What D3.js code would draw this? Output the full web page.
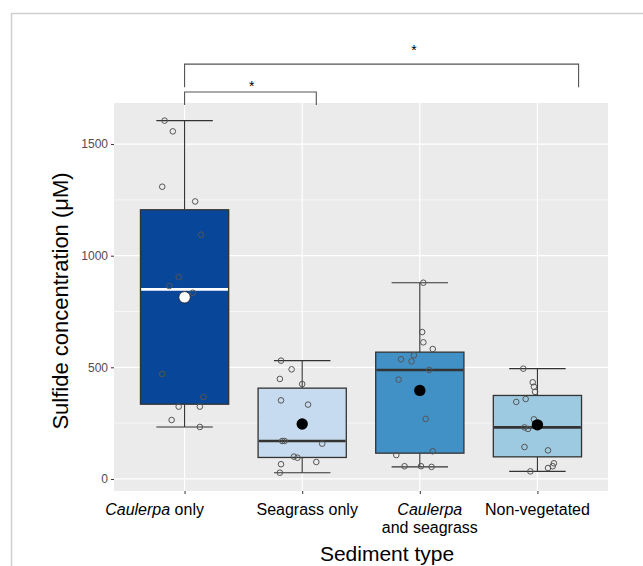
<!DOCTYPE html>
<html>
<head>
<meta charset="utf-8">
<script src="https://cdn.jsdelivr.net/npm/d3@7"></script>
<style>
  body { margin: 0; background: #fff; }
  svg { display: block; font-family: "Liberation Sans", Arial, sans-serif; }
</style>
</head>
<body>
<svg width="643" height="566"></svg>
<script>
// sediment types, in plotting order
var categories = ["caulerpa", "seagrass", "both", "bare"];
var fills = ["#08469a", "#c6dbef", "#4190c6", "#9ecae1"];

// tick labels (italic parts flagged)
var tickLabels = [
    [[["Caulerpa", true], [" only", false]]],
    [[["Seagrass only", false]]],
    [[["Caulerpa", true]], [["and seagrass", false]]],
    [[["Non-vegetated", false]]]
];

// sulfide concentration (uM) per replicate
var caulerpaOnly = [1605, 1557, 1309, 1243, 1094, 904, 864, 834, 470, 367, 324, 324, 264, 233];
var seagrassOnly = [530, 491, 448, 425, 352, 333, 170, 170, 158, 100, 95, 76, 66, 28];
var caulerpaSeagrass = [879, 658, 612, 582, 554, 536, 527, 488, 445, 269, 124, 107, 57, 57, 54];
var nonVegetated = [494, 433, 413, 390, 358, 345, 267, 231, 224, 143, 128, 70, 57, 49, 34];

// horizontal jitter of each point (fraction of a category step), as drawn
var jitCaulerpa = [-0.17, -0.10, -0.19, 0.09, 0.14, -0.05, -0.13, 0.07, -0.19, 0.16, -0.05, 0.13, -0.11, 0.13];
var jitSeagrass = [-0.18, -0.09, -0.19, 0.00, -0.18, 0.05, -0.17, -0.15, 0.17, -0.07, -0.04, 0.12, -0.18, -0.19];
var jitBoth = [0.03, 0.02, 0.03, 0.11, -0.05, -0.16, -0.07, 0.08, -0.18, 0.05, 0.11, -0.20, -0.13, 0.01, 0.10];
var jitBare = [-0.12, -0.04, -0.03, -0.02, -0.10, -0.18, -0.03, -0.11, -0.08, -0.11, 0.09, 0.14, 0.13, 0.09, -0.06];

var values = [caulerpaOnly, seagrassOnly, caulerpaSeagrass, nonVegetated];
var jitters = [jitCaulerpa, jitSeagrass, jitBoth, jitBare];

var yTicks = [0, 500, 1000, 1500];
var yMinor = [250, 750, 1250];

// significance brackets (x in category index units, y in uM)
var brackets = [
    {x1: 0, x2: 1.12, top: 1733, drop: 1675, starX: 0.57, starY: 1760},
    {x1: 0, x2: 3.35, top: 1858, drop: 1755, starX: 1.95, starY: 1921}
];

var svg = d3.select("svg");
var panel = {left: 114, right: 608, top: 103, bottom: 491};

// outer frame
svg.append("path")
    .attr("d", "M11.5,566V13.5H643")
    .attr("fill", "none")
    .attr("stroke", "#d0d0d0")
    .attr("stroke-width", 1.5);

var x = d3.scalePoint()
    .domain(categories)
    .range([panel.left, panel.right])
    .padding(0.6);
var step = x.step();
var xi = i => x(categories[0]) + i * step;

var y = d3.scaleLinear()
    .domain([-54, 1684])
    .range([panel.bottom, panel.top]);

svg.append("rect")
    .attr("x", panel.left).attr("y", panel.top)
    .attr("width", panel.right - panel.left)
    .attr("height", panel.bottom - panel.top)
    .attr("fill", "#ebebeb");

var grid = svg.append("g").attr("stroke", "#fff");
grid.selectAll(".minor").data(yMinor).enter().append("line")
    .attr("x1", panel.left).attr("x2", panel.right)
    .attr("y1", d => y(d)).attr("y2", d => y(d))
    .attr("stroke-width", 0.6);
grid.selectAll(".major").data(yTicks).enter().append("line")
    .attr("x1", panel.left).attr("x2", panel.right)
    .attr("y1", d => y(d)).attr("y2", d => y(d))
    .attr("stroke-width", 1.2);
grid.selectAll(".vert").data(categories).enter().append("line")
    .attr("x1", d => x(d)).attr("x2", d => x(d))
    .attr("y1", panel.top).attr("y2", panel.bottom)
    .attr("stroke-width", 1.2);

// y axis
var yAxis = svg.append("g")
    .attr("transform", "translate(" + panel.left + ",0)")
    .call(d3.axisLeft(y).tickValues(yTicks).tickFormat(d3.format("d")).tickSize(3).tickPadding(3));
yAxis.select(".domain").remove();
yAxis.selectAll(".tick line").attr("stroke", "#333");
yAxis.selectAll(".tick text").attr("fill", "#4d4d4d").attr("font-size", 12)
    .attr("font-family", "Liberation Sans, Arial, sans-serif");

// x axis ticks
var xAxis = svg.append("g")
    .attr("transform", "translate(0," + panel.bottom + ")")
    .call(d3.axisBottom(x).tickSize(3).tickFormat(""));
xAxis.select(".domain").remove();
xAxis.selectAll(".tick line").attr("stroke", "#333");

// category labels
var labelShift = [-30, 5, 10, 0];
tickLabels.forEach(function (lines, i) {
    var t = svg.append("text")
        .attr("text-anchor", "middle")
        .attr("font-size", 16)
        .attr("fill", "#000");
    lines.forEach(function (segs, j) {
        segs.forEach(function (s, k) {
            var ts = t.append("tspan").text(s[0])
                .attr("font-style", s[1] ? "italic" : "normal");
            if (k === 0) ts.attr("x", x(categories[i]) + labelShift[i]).attr("y", 515 + j * 18);
        });
    });
});

// axis titles
svg.append("text")
    .attr("x", 387).attr("y", 561)
    .attr("text-anchor", "middle")
    .attr("font-size", 21)
    .text("Sediment type");
svg.append("text")
    .attr("transform", "translate(68,301) rotate(-90)")
    .attr("text-anchor", "middle")
    .attr("font-size", 22)
    .text("Sulfide concentration (\u03bcM)");

// box plots
var boxW = 0.75 * step, capW = 0.48 * step;
values.forEach(function (vals, i) {
    var s = vals.slice().sort(d3.ascending);
    var q1 = d3.quantile(s, 0.25), med = d3.quantile(s, 0.5), q3 = d3.quantile(s, 0.75);
    var iqr = q3 - q1;
    var lo = d3.min(s.filter(v => v >= q1 - 1.5 * iqr));
    var hi = d3.max(s.filter(v => v <= q3 + 1.5 * iqr));
    var cx = x(categories[i]);
    var g = svg.append("g");

    g.selectAll(".whisk").data([[hi, q3], [q1, lo]]).enter().append("line")
        .attr("x1", cx).attr("x2", cx)
        .attr("y1", d => y(d[0])).attr("y2", d => y(d[1]))
        .attr("stroke", "#333").attr("stroke-width", 1.1);
    g.selectAll(".cap").data([hi, lo]).enter().append("line")
        .attr("x1", cx - capW / 2).attr("x2", cx + capW / 2)
        .attr("y1", d => y(d)).attr("y2", d => y(d))
        .attr("stroke", "#333").attr("stroke-width", 1.1);

    g.append("rect")
        .attr("x", cx - boxW / 2).attr("width", boxW)
        .attr("y", y(q3)).attr("height", y(q1) - y(q3))
        .attr("fill", fills[i])
        .attr("stroke", "#333").attr("stroke-width", 1.3);
    g.append("line")
        .attr("x1", cx - boxW / 2 + 0.7).attr("x2", cx + boxW / 2 - 0.7)
        .attr("y1", y(med)).attr("y2", y(med))
        .attr("stroke", i === 0 ? "#fff" : "#333").attr("stroke-width", 2.6);

    g.selectAll(".pt").data(vals).enter().append("circle")
        .attr("cx", (d, k) => cx + jitters[i][k] * step)
        .attr("cy", d => y(d))
        .attr("r", 2.8)
        .attr("fill", "none")
        .attr("stroke", "#555")
        .attr("stroke-width", 1);

    g.append("circle")
        .attr("cx", cx).attr("cy", y(d3.mean(vals)))
        .attr("r", 5.7)
        .attr("fill", i === 0 ? "#fff" : "#000")
        .attr("stroke", "#222").attr("stroke-width", i === 0 ? 0.8 : 0);
});

// significance brackets
var br = svg.append("g");
brackets.forEach(function (b) {
    br.append("path")
        .attr("d", "M" + xi(b.x1) + "," + y(b.drop) + "V" + y(b.top) + "H" + xi(b.x2) + "V" + y(b.drop))
        .attr("fill", "none").attr("stroke", "#555").attr("stroke-width", 1.1);
    br.append("text")
        .attr("x", xi(b.starX)).attr("y", y(b.starY) + 5)
        .attr("text-anchor", "middle")
        .attr("font-size", 14)
        .text("*");
});
</script>
</body>
</html>
